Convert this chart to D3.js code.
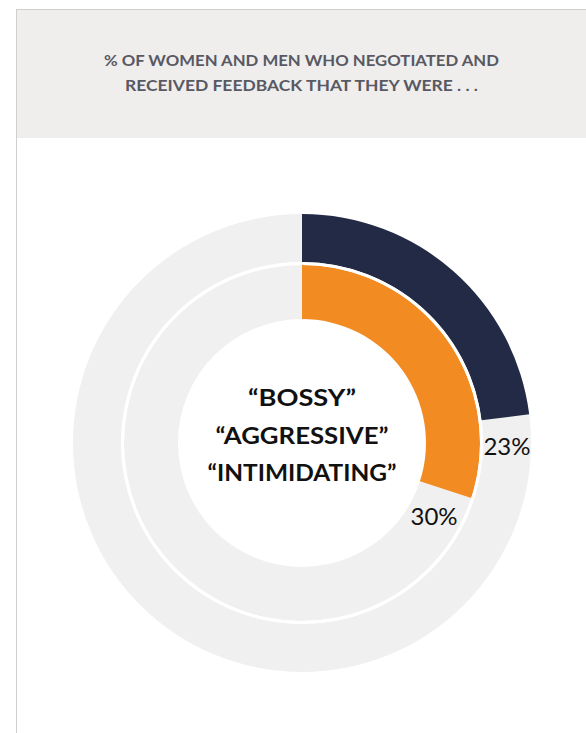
<!DOCTYPE html>
<html><head><meta charset="utf-8">
<script src="https://cdn.jsdelivr.net/npm/d3@7"></script>
<style>body{margin:0;background:#fff}svg{display:block}</style>
</head><body>
<script>
const titleLines = ["% OF WOMEN AND MEN WHO NEGOTIATED AND", "RECEIVED FEEDBACK THAT THEY WERE . . ."];
const centerLines = ["\u201CBOSSY\u201D", "\u201CAGGRESSIVE\u201D", "\u201CINTIMIDATING\u201D"];
const series = ["Men", "Women"];
const values = [23, 30];
const colors = ["#222a45", "#f28c22"];

// layout (pixel widths of the text lines)
const titleWidths = [395, 353];
const centerWidths = [108, 173, 189];

const W = 586, H = 733;
const svg = d3.select("body").append("svg").attr("width", W).attr("height", H);

// frame
svg.append("rect").attr("x", 16.5).attr("y", 9.5).attr("width", 580).attr("height", 740)
  .attr("fill", "#fff").attr("stroke", "#cfcfcf").attr("stroke-width", 1);
svg.append("rect").attr("x", 17).attr("y", 10).attr("width", 569).attr("height", 128).attr("fill", "#efeeed");

svg.selectAll("text.title").data(titleLines).join("text").attr("class", "title")
  .attr("x", 301.5).attr("y", (d, i) => 66 + i * 24.5)
  .attr("text-anchor", "middle").attr("font-family", "Lato, sans-serif").attr("font-weight", 700)
  .attr("font-size", 14.5).attr("fill", "#585963")
  .attr("textLength", (d, i) => titleWidths[i]).attr("lengthAdjust", "spacingAndGlyphs")
  .text(d => d);

const cx = 302, cy = 443;
const rings = [{outer: 229, inner: 181}, {outer: 178, inner: 124}];
const pct = d3.scaleLinear().domain([0, 100]).range([0, 2 * Math.PI]);
const g = svg.append("g").attr("transform", `translate(${cx},${cy})`);

rings.forEach((r, i) => {
  const arc = d3.arc().innerRadius(r.inner).outerRadius(r.outer);
  g.append("path").attr("d", arc({startAngle: 0, endAngle: 2 * Math.PI})).attr("fill", "#f0f0f0");
  g.append("path").attr("d", arc({startAngle: 0, endAngle: pct(values[i])})).attr("fill", colors[i]);
  const mid = (r.inner + r.outer) / 2;
  const a = pct(values[i]) + 29 / mid;
  g.append("text").attr("x", mid * Math.sin(a)).attr("y", -mid * Math.cos(a))
    .attr("dy", "0.36em").attr("text-anchor", "middle")
    .attr("font-family", "Lato, sans-serif").attr("font-size", 24).attr("font-weight", 400)
    .attr("fill", "#111").text(values[i] + "%");
});
// white separator between rings
g.append("circle").attr("r", 179.5).attr("fill", "none").attr("stroke", "#fff").attr("stroke-width", 3);

g.selectAll("text.center").data(centerLines).join("text").attr("class", "center")
  .attr("x", 0).attr("y", (d, i) => -37 + i * 37.5)
  .attr("text-anchor", "middle").attr("font-family", "Lato, sans-serif").attr("font-weight", 700)
  .attr("font-size", 22).attr("fill", "#111")
  .attr("textLength", (d, i) => centerWidths[i]).attr("lengthAdjust", "spacingAndGlyphs")
  .text(d => d);
</script>
</body></html>
